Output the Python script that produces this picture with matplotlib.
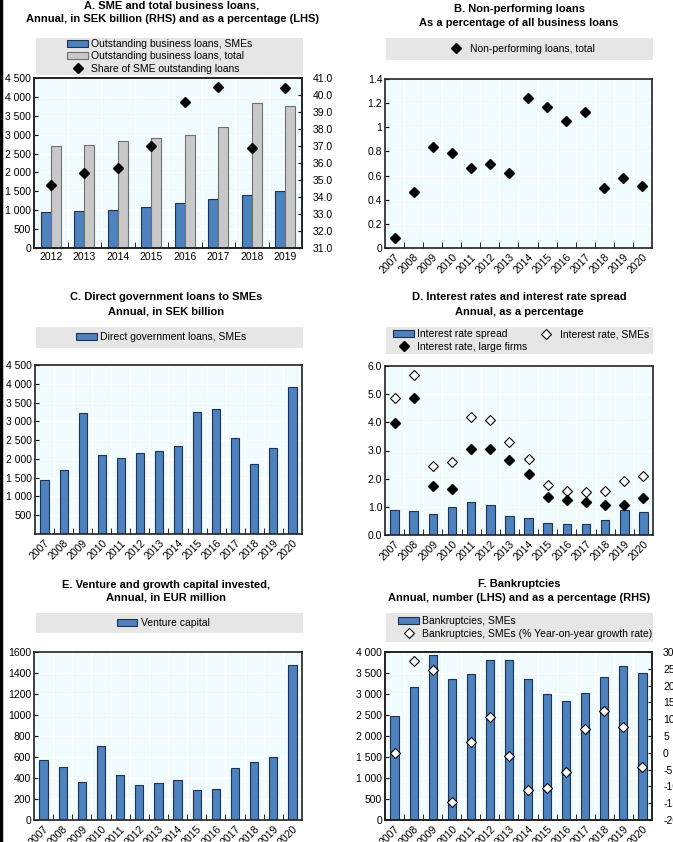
import matplotlib
matplotlib.use("Agg")
import matplotlib.pyplot as plt
import numpy as np
from matplotlib.patches import Rectangle, Patch
from matplotlib.lines import Line2D
from matplotlib.ticker import FuncFormatter

plt.rcParams['font.family'] = ['Liberation Sans Narrow', 'Liberation Sans', 'DejaVu Sans']
plt.rcParams['font.size'] = 7.5

# panel A
years_a = [2012, 2013, 2014, 2015, 2016, 2017, 2018, 2019]
sme_loans = [958, 984, 1019, 1090, 1195, 1300, 1415, 1520]
total_loans = [2689, 2733, 2821, 2917, 2979, 3199, 3849, 3770]
sme_share = [34.7, 35.4, 35.7, 37.0, 39.6, 40.5, 36.9, 40.4]

# panels B-F
years = [2007, 2008, 2009, 2010, 2011, 2012, 2013, 2014, 2015, 2016, 2017, 2018, 2019, 2020]
npl = [0.08, 0.46, 0.84, 0.79, 0.66, 0.70, 0.62, 1.24, 1.17, 1.05, 1.13, 0.50, 0.58, 0.51]
gov_loans = [1435, 1710, 3225, 2100, 2020, 2160, 2205, 2347, 3242, 3322, 2551, 1869, 2285, 3915]
rate_sme = [4.85, 5.68, 2.45, 2.60, 4.19, 4.07, 3.31, 2.71, 1.76, 1.56, 1.51, 1.55, 1.90, 2.09]
rate_large = [3.99, 4.86, 1.73, 1.64, 3.04, 3.04, 2.65, 2.18, 1.35, 1.24, 1.16, 1.08, 1.05, 1.30]
spread = [0.90, 0.85, 0.73, 0.98, 1.18, 1.07, 0.69, 0.59, 0.44, 0.38, 0.38, 0.53, 0.89, 0.82]
venture = [569, 506, 366, 703, 426, 334, 356, 378, 283, 293, 496, 553, 598, 1479]
bankr = [2476, 3167, 3921, 3357, 3468, 3817, 3802, 3357, 3008, 2825, 3024, 3397, 3659, 3500]
bankr_growth = [0.0, 27.2, 24.7, -14.5, 3.3, 10.7, -0.9, -11.1, -10.6, -5.7, 7.1, 12.4, 7.7, -4.2]

W, H = 673, 842
BLUE = '#4F81BD'
EDGE = '#1F3350'
GREY = '#C8C8C8'
BG = '#F0FBFE'
LEGBG = '#E6E6E6'

fig = plt.figure(figsize=(W/100, H/100), dpi=100)


def rect(l, t, r, b):
    return [l/W, 1 - b/H, (r - l)/W, (b - t)/H]


def thousands(v, pos):
    return '{:,.0f}'.format(v).replace(',', ' ')


def style(ax, labels, ylim, yticks, fmt, rotate=True):
    n = len(labels)
    ax.set_facecolor(BG)
    ax.set_xlim(-0.5, n - 0.5)
    ax.set_ylim(*ylim)
    ax.set_yticks(yticks)
    ax.yaxis.set_major_formatter(FuncFormatter(fmt))
    for i in range(n - 1):
        ax.axvline(i + 0.5, color='white', lw=1, zorder=0.5)
    for y in yticks:
        ax.axhline(y, color='white', lw=1, zorder=0.5)
    ax.set_xticks(range(n))
    ax.set_xticklabels(labels)
    ax.set_xticks(np.arange(n - 1) + 0.5, minor=True)
    ax.tick_params(axis='x', which='major', length=0, pad=3)
    ax.tick_params(axis='x', which='minor', direction='in', length=4)
    ax.tick_params(axis='y', direction='in', length=3, pad=2)
    for s in ax.spines.values():
        s.set_linewidth(1.2)
        s.set_color('#222222')
    if rotate:
        for t in ax.get_xticklabels():
            t.set_rotation(45)
            t.set_ha('right')
            t.set_rotation_mode('anchor')


def title(x, y1, y2, l1, l2):
    fig.text(x/W, 1 - y1/H, l1, ha='center', va='center', fontweight='bold', fontsize=8)
    fig.text(x/W, 1 - y2/H, l2, ha='center', va='center', fontweight='bold', fontsize=8)


def legbox(l, t, r, b):
    fig.add_artist(Rectangle((l/W, 1 - b/H), (r - l)/W, (b - t)/H,
                             transform=fig.transFigure, facecolor=LEGBG, edgecolor='none'))


blue_patch = Patch(facecolor=BLUE, edgecolor=EDGE, lw=0.8)
grey_patch = Patch(facecolor=GREY, edgecolor='#707070', lw=0.8)
black_dia = Line2D([], [], marker='D', color='black', ls='none', markersize=5)
open_dia = Line2D([], [], marker='D', markerfacecolor='white', markeredgecolor='black',
                  ls='none', markersize=5, markeredgewidth=0.8)
legkw = dict(frameon=False, handlelength=2.0, handleheight=0.7, handletextpad=0.3,
             labelspacing=0.25, borderpad=0, fontsize=7.5)

# A
axA = fig.add_axes(rect(34, 78, 302, 248))
xa = np.arange(len(years_a))
axA.bar(xa - 0.15, sme_loans, 0.3, color=BLUE, edgecolor=EDGE, lw=0.8, zorder=2)
axA.bar(xa + 0.15, total_loans, 0.3, color=GREY, edgecolor='#707070', lw=0.8, zorder=2)
style(axA, years_a, (0, 4500), np.arange(0, 4501, 500), thousands, rotate=False)
axA2 = axA.twinx()
axA2.plot(xa, sme_share, 'D', color='black', markersize=5, zorder=3)
axA2.set_ylim(31, 41)
axA2.set_yticks(np.arange(31, 41.1, 1))
axA2.yaxis.set_major_formatter(FuncFormatter(lambda v, p: '%.1f' % v))
axA2.tick_params(axis='y', direction='in', length=3, pad=8)
for s in axA2.spines.values():
    s.set_linewidth(1.2)
    s.set_color('#222222')
title(172, 6, 19, 'A. SME and total business loans,',
      'Annual, in SEK billion (RHS) and as a percentage (LHS)')
legbox(36, 38, 303, 75)
fig.legend([blue_patch, grey_patch, black_dia],
           ['Outstanding business loans, SMEs', 'Outstanding business loans, total',
            'Share of SME outstanding loans'],
           loc='center', bbox_to_anchor=(160/W, 1 - 56.5/H), **legkw)

# B
axB = fig.add_axes(rect(385, 79, 652, 248))
xb = np.arange(len(years))
axB.plot(xb, npl, 'D', color='black', markersize=5, zorder=3)
style(axB, years, (0, 1.4), np.arange(0, 1.41, 0.2), lambda v, p: '%g' % round(v, 1))
title(519, 9, 23, 'B. Non-performing loans', 'As a percentage of all business loans')
legbox(386, 38, 653, 60)
fig.legend([black_dia], ['Non-performing loans, total'],
           loc='center', bbox_to_anchor=(520/W, 1 - 49/H), **legkw)

# C
axC = fig.add_axes(rect(35, 365, 302, 534))
axC.bar(xb, gov_loans, 0.43, color=BLUE, edgecolor=EDGE, lw=0.8, zorder=2)
style(axC, years, (0, 4500), np.arange(500, 4501, 500), thousands)
title(166, 297, 312, 'C. Direct government loans to SMEs', 'Annual, in SEK billion')
legbox(36, 327, 303, 348)
fig.legend([blue_patch], ['Direct government loans, SMEs'],
           loc='center', bbox_to_anchor=(161/W, 1 - 337.5/H), **legkw)

# D
axD = fig.add_axes(rect(385, 366, 653, 535))
axD.bar(xb, spread, 0.45, color=BLUE, edgecolor=EDGE, lw=0.8, zorder=2)
axD.plot(xb, rate_sme, 'D', markerfacecolor='white', markeredgecolor='black',
         markeredgewidth=0.8, markersize=5, zorder=3)
axD.plot(xb, rate_large, 'D', color='black', markersize=5, zorder=3)
style(axD, years, (0, 6), np.arange(0, 6.01, 1), lambda v, p: '%.1f' % v)
title(519, 297, 312, 'D. Interest rates and interest rate spread', 'Annual, as a percentage')
legbox(386, 327, 653, 354)
fig.legend([blue_patch, black_dia, open_dia],
           ['Interest rate spread', 'Interest rate, large firms', 'Interest rate, SMEs'],
           loc='center left', bbox_to_anchor=(388/W, 1 - 340.5/H), ncol=2,
           columnspacing=0.8, **legkw)

# E
axE = fig.add_axes(rect(34, 652, 302, 820))
axE.bar(xb, venture, 0.43, color=BLUE, edgecolor=EDGE, lw=0.8, zorder=2)
style(axE, years, (0, 1600), np.arange(0, 1601, 200), lambda v, p: '%d' % v)
title(166, 585, 598, 'E. Venture and growth capital invested,', 'Annual, in EUR million')
legbox(36, 613, 303, 633)
fig.legend([blue_patch], ['Venture capital'],
           loc='center', bbox_to_anchor=(163/W, 1 - 623/H), **legkw)

# F
axF = fig.add_axes(rect(385, 652, 652, 820))
axF.bar(xb, bankr, 0.43, color=BLUE, edgecolor=EDGE, lw=0.8, zorder=2)
style(axF, years, (0, 4000), np.arange(0, 4001, 500), thousands)
axF2 = axF.twinx()
axF2.plot(xb, bankr_growth, 'D', markerfacecolor='white', markeredgecolor='black',
          markeredgewidth=0.8, markersize=5, zorder=3)
axF2.set_ylim(-20, 30)
axF2.set_yticks(np.arange(-20, 31, 5))
axF2.yaxis.set_major_formatter(FuncFormatter(lambda v, p: '%d' % v))
axF2.tick_params(axis='y', direction='in', length=3, pad=8)
for s in axF2.spines.values():
    s.set_linewidth(1.2)
    s.set_color('#222222')
title(519, 584, 598, 'F. Bankruptcies', 'Annual, number (LHS) and as a percentage (RHS)')
legbox(386, 613, 653, 642)
fig.legend([blue_patch, open_dia],
           ['Bankruptcies, SMEs', 'Bankruptcies, SMEs (% Year-on-year growth rate)'],
           loc='center left', bbox_to_anchor=(393/W, 1 - 627.5/H), **legkw)

# left border line as in the source image
fig.add_artist(Line2D([0.0015, 0.0015], [0, 1], color='black', lw=2.5,
                      transform=fig.transFigure))

fig.savefig('out.png', dpi=100)
